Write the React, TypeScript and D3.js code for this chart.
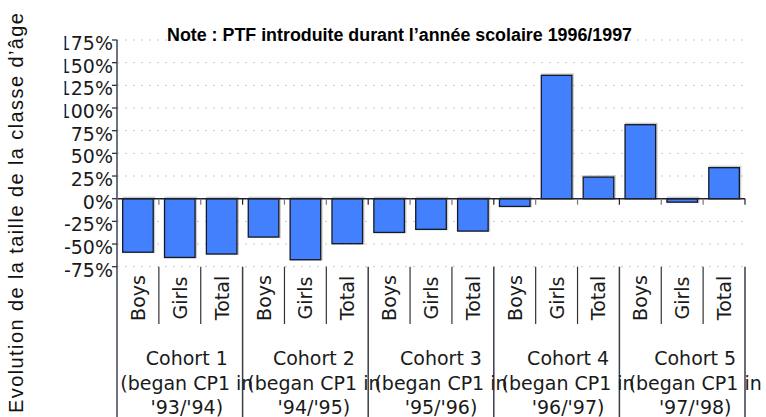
import React from 'react'
import * as d3 from 'd3'

const cohorts = ['Cohort 1', 'Cohort 2', 'Cohort 3', 'Cohort 4', 'Cohort 5']
const years = ["'93/'94)", "'94/'95)", "'95/'96)", "'96/'97)", "'97/'98)"]
const groups = ['Boys', 'Girls', 'Total']
const boys = [-59, -42.3, -37.2, -8.5, 81.6]
const girls = [-64.8, -67.3, -33.8, 136, -3.8]
const total = [-61, -49.6, -35.7, 23.8, 34.2]
const yTicks = [-75, -50, -25, 0, 25, 50, 75, 100, 125, 150, 175]

const W = 766, H = 417
const left = 117, right = 745, top = 40, bottom = 266.7

const App = () => {
    const series = [boys, girls, total]
    const bars = cohorts.flatMap((c, ci) =>
        groups.map((g, gi) => ({ key: `${c}|${g}`, cohort: ci, group: g, value: series[gi][ci] })))

    const x = d3.scaleBand<string>()
        .domain(bars.map(d => d.key))
        .range([left, right])
        .paddingInner(0.27)
        .paddingOuter(0.135)
    const step = x.step()
    const y = d3.scaleLinear().domain([-75, 175]).range([bottom, top])
    const y0 = y(0)

    const tickFont = '"DejaVu Sans", Verdana, sans-serif'
    const cohortW = step * 3

    return (
        <svg width={W} height={H} style={{ position: 'absolute', left: 0, top: 0, background: '#fff' }}>
            <defs>
                <clipPath id="tickclip">
                    <rect x={64.5} y={0} width={60} height={H} />
                </clipPath>
            </defs>
            {/* grid */}
            {yTicks.filter(t => t !== 0).map(t => (
                <line key={t} x1={left} x2={right} y1={y(t)} y2={y(t)}
                    stroke="#c8c8c8" strokeWidth={1} strokeDasharray="2,6" />
            ))}
            {/* bars */}
            {bars.map(d => {
                const bx = x(d.key) as number
                const by = Math.min(y(d.value), y0)
                const bh = Math.abs(y(d.value) - y0)
                return (
                    <g key={d.key}>
                        <rect x={bx + 1} y={by - 1} width={x.bandwidth()} height={bh + 1}
                            fill="none" stroke="#999" strokeOpacity={0.5} strokeWidth={2} />
                        <rect x={bx} y={by} width={x.bandwidth()} height={bh}
                            fill="#4280fd" stroke="#161a28" strokeWidth={1.3} />
                    </g>
                )
            })}
            {/* zero line */}
            <line x1={left} x2={right} y1={y0} y2={y0} stroke="#1e222c" strokeWidth={1.6} />
            {/* small ticks at band boundaries */}
            {d3.range(1, 16).map(i => (
                <line key={i} x1={left + i * step} x2={left + i * step} y1={y0} y2={y0 + 6}
                    stroke={i % 3 === 0 ? '#222' : '#777'} strokeWidth={1.2} />
            ))}
            {/* y axis */}
            <line x1={left} x2={left} y1={top} y2={H} stroke="#6c7282" strokeWidth={2} />
            {yTicks.map(t => (
                <line key={t} x1={left - 5} x2={left} y1={y(t)} y2={y(t)} stroke="#333" strokeWidth={1.3} />
            ))}
            <g clipPath="url(#tickclip)">
                {yTicks.map(t => (
                    <text key={t} x={113} y={y(t) + 10} textAnchor="end"
                        fontFamily={tickFont} fontSize={19} fill="#1a1a1a">{`${t}%`}</text>
                ))}
            </g>
            {/* category separators */}
            {d3.range(1, 16).map(i => {
                const xx = left + i * step
                const isCohort = i % 3 === 0
                return (
                    <line key={i} x1={xx} x2={xx} y1={bottom} y2={isCohort ? H : 324}
                        stroke={isCohort ? '#3a3d48' : '#333'} strokeWidth={isCohort ? 1.5 : 1.2} />
                )
            })}
            {/* group labels */}
            {bars.map(d => {
                const cx = (x(d.key) as number) + x.bandwidth() / 2
                return (
                    <text key={d.key} transform={`translate(${cx + 7},298) rotate(-90)`}
                        textAnchor="middle" fontFamily={tickFont} fontSize={19} fill="#1a1a1a">{d.group}</text>
                )
            })}
            {/* cohort labels */}
            {cohorts.map((c, ci) => {
                const cx = left + ci * cohortW + cohortW / 2 + 7 + ci * 1.5
                return (
                    <g key={c} fontFamily={tickFont} fontSize={19} fill="#1a1a1a" textAnchor="middle">
                        <text x={cx} y={365}>{c}</text>
                        <text x={cx} y={390}>(began CP1 in</text>
                        <text x={cx} y={414}>{years[ci]}</text>
                    </g>
                )
            })}
            {/* title */}
            <text x={399.5} y={41} textAnchor="middle" fontFamily='"Liberation Sans", Arial, sans-serif'
                fontWeight="bold" fontSize={18} textLength={465} lengthAdjust="spacingAndGlyphs" fill="#000">
                Note : PTF introduite durant l’année scolaire 1996/1997
            </text>
            {/* y axis title */}
            <text transform="translate(23,413) rotate(-90)" textAnchor="start"
                fontFamily='"Liberation Sans", Arial, sans-serif' fontSize={20}
                textLength={400} lengthAdjust="spacing" fill="#111">
                Evolution de la taille de la classe d’âge
            </text>
        </svg>
    )
}

export default App
